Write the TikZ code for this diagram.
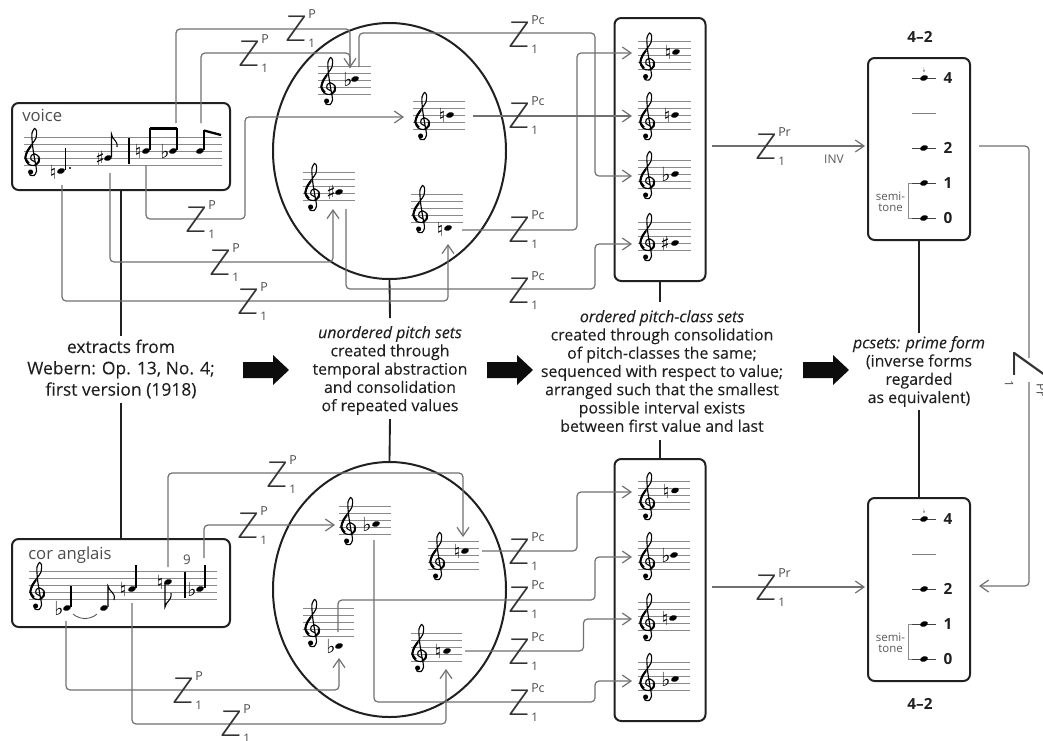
\documentclass[tikz,border=0pt]{standalone}
\usepackage{fontspec}
\usetikzlibrary{shapes.geometric,arrows.meta}
\setmainfont{Open Sans}
\newfontfamily\capfont{Open Sans}[FakeBold=0.12]
\newfontfamily\zfont{Fira Sans ExtraLight}[FakeStretch=1.15]
\newfontfamily\musfont{DejaVu Sans}
\definecolor{wire}{HTML}{707070}
\definecolor{ink}{HTML}{202020}
\definecolor{stafflines}{HTML}{8A8A8A}
\newcounter{autonode}
\newcommand{\autoname}{n\theautonode}
\tikzset{
  conn/.style={draw=wire,line width=0.9pt,rounded corners=3pt},
  arr/.style={conn,-{Straight Barb[length=6.5pt,width=9pt]}},
  thk/.style={draw=ink,line width=1.4pt},
  boxn/.style={draw=ink,line width=1.5pt,rounded corners=5pt,inner sep=0pt,fill=none},
  circ/.style={ellipse,draw=ink,line width=1.5pt,inner sep=0pt},
  zf/.style={font=\zfont\fontsize{28}{28}\selectfont,text=black!80,inner sep=0pt},
  supf/.style={font=\fontsize{9.3}{10}\selectfont,text=black!70,inner sep=0pt},
  subf/.style={font=\fontsize{8.8}{10}\selectfont,text=black!70,inner sep=0pt},
  captxt/.style={align=center,text=ink,inner sep=0pt,font=\capfont\fontsize{11.9}{13.7}\selectfont},
  captxtA/.style={align=center,text=ink,inner sep=0pt,font=\capfont\fontsize{13.1}{16}\selectfont},
  smalltxt/.style={text=black!65,inner sep=0pt,align=center,font=\fontsize{8.6}{7.8}\selectfont},
  numf/.style={text=ink,inner sep=0pt,font=\fontsize{11.5}{12}\bfseries\selectfont},
  lab/.style={text=black!70,inner sep=0pt,font=\fontsize{12.5}{14}\selectfont},
  accf/.style={inner sep=0pt,text=black,font=\musfont\fontsize{14.5}{15}\selectfont},
  stem/.style={draw=black,line width=0.8pt},
  beam/.style={draw=black,line width=1.7pt},
}
% Z^sup_1 label: x y of Z top-left
\newcommand{\Zl}[4]{%
  \node[zf] (#1) at (#2+10,#3+12.5) {Z};
  \node[supf,anchor=west] (#1s) at (#2+21,#3-2) {#4};
  \node[subf,anchor=west] (#1u) at (#2+21,#3+27) {1};
}
\newcommand{\clefdraw}{%
  \draw[line width=0.85pt,black] plot[smooth] coordinates {(1.5,10.5) (-2,8.5) (-1.7,4.5) (2,3) (6,6) (6,11) (1,14.5) (-5,13) (-8,7) (-6,0) (-1,-7) (3,-13) (3.5,-20) (1.5,-22.5) (-1,-18) (-1,-12) (0,-2) (2,10) (3.5,20) (1,24.5) (-3,24) (-3.5,21)};
  \draw[line width=1.5pt,black] plot[smooth] coordinates {(-4,12.5) (-7.6,7) (-5.6,0.5) (-2,-5)};
  \draw[line width=1.4pt,black] plot[smooth] coordinates {(5.6,6.5) (5.7,10.5) (2.5,14)};
  \fill[black] (-2.4,21) circle (1.9pt);
}
% stave: left right centre clefx
\newcommand{\stave}[4]{%
  \foreach \d in {-14,-7,0,7,14}{\draw[stafflines,line width=0.75pt] (#1,#3+\d) -- (#2,#3+\d);}
  \begin{scope}[shift={(#4,#3)}]\clefdraw\end{scope}
}
\newcommand{\nh}[2]{\fill[black,shift={(#1,#2)},rotate=20] (0,0) ellipse [x radius=3pt,y radius=2pt];}
\newcommand{\acc}[3]{\stepcounter{autonode}\node[accf] (\autoname) at (#1,#2) {#3};}
\newcommand{\blockarrow}[1]{\fill[black!95,shift={(#1,370)}] (0,-8) -- (30,-8) -- (30,-15) -- (46,0) -- (30,15) -- (30,8) -- (0,8) -- cycle;}
% pitch-name note in right-hand boxes
\newcommand{\rn}[2]{\draw[black!75,line width=0.6pt] (912,#2) -- (936,#2); \nh{924}{#2} \stepcounter{autonode}\node[numf] (\autoname) at (948,#2) {#1};}
\newcommand{\primebox}[1]{%
  \begin{scope}[shift={(0,#1)}]
    \rn{4}{78}\rn{2}{148}\rn{1}{183}\rn{0}{218}
    \draw[black!50,line width=0.6pt] (912,113) -- (936,113);
    \stepcounter{autonode}\node[accf,font=\musfont\fontsize{4.5}{5}\selectfont] (\autoname) at (924,70.5) {♭};
    \draw[black!45,line width=0.5pt] (912,183) -- (908,183) -- (908,218) -- (912,218);
    \stepcounter{autonode}\node[smalltxt] (\autoname) at (890.5,202) {semi-\\tone};
  \end{scope}
}
\begin{document}
\begin{tikzpicture}[x=0.75pt,y=-0.75pt]
\useasboundingbox (0,0) rectangle (1043,740);
% ---------- containers
\node[boxn,minimum width={218*0.75pt},minimum height={87*0.75pt}] (voice) at (121,146.5) {};
\node[boxn,minimum width={218*0.75pt},minimum height={88*0.75pt}] (cor) at (121,583) {};
\node[circ,minimum width={233*0.75pt},minimum height={256*0.75pt}] (c1) at (389.5,151) {};
\node[circ,minimum width={233*0.75pt},minimum height={255*0.75pt}] (c2) at (389.5,589.5) {};
\node[boxn,minimum width={91*0.75pt},minimum height={263*0.75pt}] (col1) at (660,149.5) {};
\node[boxn,minimum width={91*0.75pt},minimum height={262*0.75pt}] (col2) at (660,590) {};
\node[boxn,minimum width={102*0.75pt},minimum height={182*0.75pt}] (p1) at (919,149) {};
\node[boxn,minimum width={102*0.75pt},minimum height={183*0.75pt}] (p2) at (919,589.5) {};
% ---------- captions
\node[captxtA] (t1) at (121,369) {extracts from\\Webern: Op. 13, No. 4;\\first version (1918)};
\node[captxt] (t2) at (390,370.5) {{\itshape unordered pitch sets}\\created through\\temporal abstraction\\and consolidation\\of repeated values};
\node[captxt] (t3) at (662,371) {{\itshape ordered pitch-class sets}\\created through consolidation\\of pitch-classes the same;\\sequenced with respect to value;\\arranged such that the smallest\\possible interval exists\\between first value and last};
\node[captxt] (t4) at (919,371.5) {{\itshape pcsets: prime form}\\(inverse forms\\regarded\\as equivalent)};
\coordinate (t1n) at (121,336); \coordinate (t1s) at (121,403);
\coordinate (t2n) at (390,318); \coordinate (t2s) at (390,419);
\coordinate (t3n) at (660,302); \coordinate (t3s) at (660,440);
\coordinate (t4n) at (919,333); \coordinate (t4s) at (919,410);
\draw[thk] (voice.south) -- (t1n);
\draw[thk] (t1s) -- (cor.north);
\draw[thk] (c1.south) -- (t2n);
\draw[thk] (t2s) -- (c2.north);
\draw[thk] (col1.south) -- (t3n);
\draw[thk] (t3s) -- (col2.north);
\draw[thk] (p1.south) -- (t4n);
\draw[thk] (t4s) -- (p2.north);
\blockarrow{243}\blockarrow{487}\blockarrow{803}
% ---------- voice excerpt
\node[lab,anchor=west] (vtxt) at (22,115) {voice};
\foreach \d in {-14,-7,0,7,14}{\draw[stafflines,line width=0.75pt] (24,151+\d) -- (222,151+\d);}
\begin{scope}[shift={(33,151)}]\clefdraw\end{scope}
\nh{61}{171}\draw[stem] (65.5,170) -- (65.5,148); \fill (70,168) circle (0.8pt); \acc{53}{172}{♮}
\nh{108}{158}\draw[stem] (111.5,157) -- (111.5,134) .. controls (112,140) and (118,140) .. (117,147); \acc{100}{158}{♯}
\draw[line width=1.1pt,black] (129,138) -- (129,164);
\nh{146}{151}\draw[stem] (150,150) -- (150,128); \acc{138}{151}{♮}
\nh{173}{151}\draw[stem] (177,150) -- (177,128); \acc{165}{151}{♭}
\draw[beam] (150,128.5) -- (177,128.5);
\nh{200}{151}\draw[stem] (204,150) -- (204,130); \draw[beam] (204,130.5) -- (221,135);
% ---------- cor anglais excerpt
\node[lab,anchor=west] (ctxt) at (28,555) {cor anglais};
\node[lab,font=\fontsize{10}{11}\selectfont] (nine) at (187,560) {9};
\foreach \d in {-14,-7,0,7,14}{\draw[stafflines,line width=0.75pt] (29,585+\d) -- (217,585+\d);}
\begin{scope}[shift={(38,585)}]\clefdraw\end{scope}
\nh{67}{608}\draw[stem] (71,607) -- (71,586); \acc{59}{608}{♭}
\nh{104}{608}\draw[stem] (108,607) -- (108,586) .. controls (109,592) and (116,592) .. (114,600);
\draw[black!70,line width=0.6pt] (73,614) .. controls (80,620) and (90,620) .. (97,614);
\nh{132}{589}\draw[stem] (136,588) -- (136,565); \acc{123}{589}{♮}
\nh{168}{582}\draw[stem] (165,583) -- (165,607) .. controls (166,601) and (172,601) .. (171,593); \acc{160}{582}{♮}
\draw[line width=1.1pt,black] (185,572) -- (185,598);
\nh{200}{589}\draw[stem] (205,588) -- (205,565); \acc{192}{589}{♭}
% ---------- upper unordered set
\stave{318}{371}{80}{329}  \acc{348}{79}{♭} \nh{355}{79}
\stave{413}{465}{115}{423} \acc{442}{115}{♮} \nh{450}{115}
\stave{303}{355}{186}{313} \acc{331}{192}{♯} \nh{339}{192}
\stave{411}{463}{208}{421} \acc{440}{229}{♮} \nh{448}{228}
% ---------- lower unordered set
\stave{339}{391}{520}{349} \acc{367}{524}{♭} \nh{376}{524}
\stave{428}{479}{555}{438} \acc{457}{551}{♮} \nh{465}{551}
\stave{303}{354}{622}{313} \acc{331}{646}{♭} \nh{339}{646}
\stave{411}{462}{647}{420} \acc{438}{651}{♮} \nh{447}{651}
% ---------- ordered sets
\stave{638}{691}{55.5}{648} \acc{668}{52}{♮} \nh{676}{52}
\stave{638}{691}{115}{648}  \acc{667}{115}{♮} \nh{675}{115}
\stave{638}{691}{174}{648}  \acc{666}{174}{♭} \nh{675}{174}
\stave{638}{691}{236}{648}  \acc{665}{243}{♯} \nh{675}{243}
\stave{638}{690}{495}{648}  \acc{666}{491}{♮} \nh{675}{490.5}
\stave{638}{690}{555}{648}  \acc{666}{555}{♭} \nh{674}{555}
\stave{638}{690}{616}{648}  \acc{665}{618}{♮} \nh{673}{618}
\stave{638}{690}{676}{648}  \acc{666}{679}{♭} \nh{675}{679}
% ---------- prime forms
\primebox{0}\primebox{441}
\node[numf] (l42a) at (920,37) {4–2};
\node[numf] (l42b) at (920,704) {4–2};
\node[smalltxt,font=\fontsize{9}{9}\selectfont] (inv) at (834,159) {INV};
% ---------- connector end points
\coordinate (va) at (176,123); \coordinate (vb) at (201,123); \coordinate (vc) at (146,165); \coordinate (vd) at (110,173); \coordinate (ve) at (62,185);
\coordinate (s1t) at (350,68); \coordinate (s2l) at (404,117); \coordinate (s3b) at (333,209); \coordinate (s4b) at (448,244);
\coordinate (ca) at (168,567); \coordinate (cb) at (204,558); \coordinate (cc) at (66,621); \coordinate (cd) at (132,603);
\coordinate (l2t) at (463,537); \coordinate (l1l) at (335,525); \coordinate (l3b) at (339,658); \coordinate (l4b) at (446,669);
\coordinate (o1) at (632,53); \coordinate (o2) at (632,116); \coordinate (o3) at (632,176); \coordinate (o4) at (632,244);
\coordinate (o5) at (632,492); \coordinate (o6) at (632,557); \coordinate (o7) at (632,619); \coordinate (o8) at (632,681);
\coordinate (u1) at (359,67); \coordinate (u2) at (473,116); \coordinate (u3) at (462,230); \coordinate (u4) at (346,209);
\coordinate (w1) at (482,551); \coordinate (w2) at (338,632); \coordinate (w3) at (465,651); \coordinate (w4) at (374,540);
\coordinate (pi1) at (712,146); \coordinate (pi2) at (712,587); \coordinate (pa1) at (865,146); \coordinate (pa2) at (865,587);
\coordinate (ro) at (979,146); \coordinate (ri) at (979,586); \coordinate (rz1) at (1029,358); \coordinate (rz2) at (1029,382);
% ---------- P connectors, voice
\draw[arr] (va) -- (176,29) -- (350,29) -- (s1t);
\draw[conn] (vb) -- (201,53) -- (350,53) -- (s1t);
\draw[arr] (vc) -- (146,219) -- (245,219) -- (245,117) -- (s2l);
\draw[arr] (vd) -- (110,262) -- (333,262) -- (s3b);
\draw[arr] (ve) -- (62,301) -- (448,301) -- (s4b);
% ---------- P connectors, cor anglais
\draw[arr] (ca) -- (168,473) -- (463,473) -- (l2t);
\draw[arr] (cb) -- (204,525) -- (l1l);
\draw[arr] (cc) -- (66,690) -- (339,690) -- (l3b);
\draw[arr] (cd) -- (132,724) -- (446,724) -- (l4b);
% ---------- Pc connectors
\draw[arr] (u1) -- (359,33) -- (595,33) -- (595,176) -- (o3);
\draw[arr] (u2) -- (o2);
\draw[arr] (u3) -- (577,230) -- (577,53) -- (o1);
\draw[arr] (u4) -- (346,289) -- (595,289) -- (595,244) -- (o4);
\draw[arr] (w1) -- (577,551) -- (577,492) -- (o5);
\draw[arr] (w2) -- (338,600) -- (595,600) -- (595,557) -- (o6);
\draw[arr] (w3) -- (583.5,651) -- (583.5,619) -- (o7);
\draw[arr] (w4) -- (374,702) -- (595,702) -- (595,681) -- (o8);
% ---------- Pr connectors
\draw[arr] (pi1) -- (pa1);
\draw[arr] (pi2) -- (pa2);
\draw[conn] (ro) -- (1029,146) -- (rz1);
\draw[arr] (rz2) -- (1029,586) -- (ri);
% ---------- Z labels
\Zl{zp1}{287}{16}{P}
\Zl{zp2}{240}{41}{P}
\Zl{zp3}{187}{207}{P}
\Zl{zp4}{211}{250}{P}
\Zl{zp5}{239}{289}{P}
\Zl{zq1}{268}{462}{P}
\Zl{zq2}{239}{513}{P}
\Zl{zq3}{174}{678}{P}
\Zl{zq4}{222}{711}{P}
\Zl{zc1}{510}{22}{Pc}
\Zl{zc2}{510}{103}{Pc}
\Zl{zc3}{510}{217}{Pc}
\Zl{zc4}{510}{278}{Pc}
\Zl{zc5}{510}{539}{Pc}
\Zl{zc6}{510}{587}{Pc}
\Zl{zc7}{510}{639}{Pc}
\Zl{zc8}{510}{690}{Pc}
\Zl{zr1}{757}{134}{Pr}
\Zl{zr2}{757}{575}{Pr}
\node[zf,font=\zfont\fontsize{36}{36}\selectfont,rotate=-90] (zside) at (1030,365) {Z};
\node[subf,rotate=-90] (zsideu) at (1009,384) {1};
\node[supf,rotate=-90] (zsides) at (1041,390) {Pr};
\end{tikzpicture}
\end{document}
